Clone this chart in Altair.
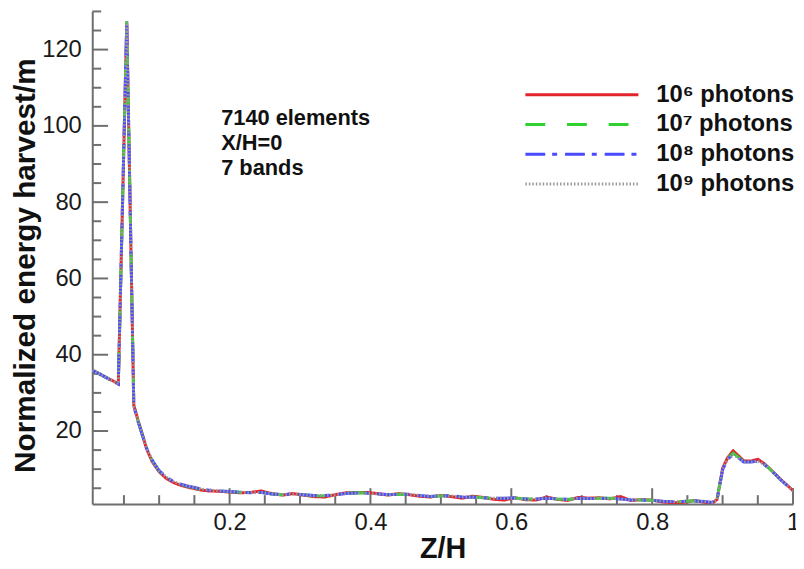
import altair as alt
import pandas as pd

# ---------------- data ----------------
Z = [0.005, 0.015, 0.025, 0.035, 0.042, 0.054, 0.064, 0.070, 0.076, 0.082,
     0.090, 0.100, 0.110, 0.120, 0.130, 0.140, 0.150, 0.160, 0.170, 0.185,
     0.200, 0.215, 0.230, 0.245, 0.260, 0.275, 0.290, 0.305, 0.320, 0.335,
     0.350, 0.365, 0.380, 0.395, 0.410, 0.425, 0.440, 0.455, 0.470, 0.485,
     0.500, 0.515, 0.530, 0.545, 0.560, 0.575, 0.590, 0.605, 0.620, 0.635,
     0.650, 0.665, 0.680, 0.695, 0.710, 0.725, 0.740, 0.755, 0.770, 0.785,
     0.800, 0.815, 0.830, 0.845, 0.860, 0.875, 0.885, 0.892, 0.900, 0.907,
     0.915, 0.922, 0.930, 0.940, 0.950, 0.958, 0.966, 0.975, 0.983, 0.991,
     1.000]

E_1E6 = [36.0, 35.0, 34.0, 33.1, 32.4, 127.0, 26.8, 22.8, 19.2, 15.4,
         12.0, 9.3, 7.6, 6.5, 5.8, 5.3, 4.9, 4.5, 4.3, 4.2,
         4.0, 3.8, 3.9, 4.3, 3.6, 3.2, 3.6, 3.2, 2.8, 2.7,
         3.3, 3.8, 3.9, 3.9, 3.6, 3.2, 3.6, 3.3, 2.9, 2.7,
         3.1, 2.8, 2.4, 2.9, 2.6, 2.1, 1.9, 2.5, 2.0, 1.9,
         2.7, 2.1, 1.8, 2.6, 2.4, 2.5, 2.2, 2.8, 1.8, 2.0,
         1.9, 1.4, 1.2, 1.3, 1.8, 1.3, 1.1, 2.0, 10.2, 13.0,
         14.8, 13.6, 12.2, 12.1, 12.6, 11.6, 10.3, 8.7, 7.2, 5.9,
         4.4]

E_1E7 = [35.9, 35.0, 34.0, 33.0, 32.3, 127.5, 26.6, 22.6, 19.1, 15.5,
         12.3, 9.5, 7.8, 6.7, 6.0, 5.5, 5.1, 4.7, 4.45, 4.3,
         4.1, 3.95, 3.8, 3.95, 3.5, 3.3, 3.5, 3.3, 3.05, 3.0,
         3.25, 3.65, 3.8, 3.75, 3.5, 3.3, 3.45, 3.35, 3.05, 2.8,
         3.0, 3.0, 2.65, 2.7, 2.5, 2.3, 2.3, 2.45, 2.2, 2.15,
         2.45, 2.2, 2.05, 2.4, 2.3, 2.35, 2.35, 2.3, 1.9, 1.9,
         1.85, 1.55, 1.4, 1.5, 1.7, 1.45, 1.25, 1.9, 10.0, 12.8,
         14.2, 13.2, 12.0, 11.9, 12.3, 11.5, 10.2, 8.6, 7.1, 5.8,
         4.3]

E_1E8 = [35.9, 35.0, 34.0, 33.0, 32.3, 127.4, 26.5, 22.5, 19.0, 15.6,
         12.4, 9.6, 7.9, 6.8, 6.1, 5.6, 5.2, 4.8, 4.5, 4.3,
         4.15, 3.95, 3.8, 3.9, 3.5, 3.35, 3.5, 3.3, 3.1, 3.1,
         3.25, 3.6, 3.75, 3.7, 3.5, 3.35, 3.4, 3.4, 3.1, 2.85,
         3.0, 3.05, 2.7, 2.65, 2.5, 2.35, 2.4, 2.45, 2.2, 2.2,
         2.4, 2.2, 2.1, 2.35, 2.3, 2.3, 2.4, 2.2, 1.9, 1.9,
         1.85, 1.6, 1.45, 1.55, 1.65, 1.5, 1.3, 1.9, 9.8, 12.6,
         13.8, 13.0, 11.9, 11.9, 12.1, 11.4, 10.2, 8.6, 7.1, 5.8,
         4.3]

E_1E9 = [35.9, 35.0, 34.0, 33.0, 32.3, 127.4, 26.5, 22.5, 19.0, 15.6,
         12.4, 9.6, 7.9, 6.8, 6.1, 5.6, 5.2, 4.8, 4.5, 4.3,
         4.15, 3.95, 3.8, 3.9, 3.5, 3.35, 3.45, 3.3, 3.1, 3.1,
         3.25, 3.6, 3.75, 3.7, 3.5, 3.35, 3.4, 3.4, 3.1, 2.9,
         3.0, 3.0, 2.7, 2.65, 2.5, 2.35, 2.4, 2.4, 2.2, 2.2,
         2.4, 2.2, 2.1, 2.35, 2.3, 2.3, 2.35, 2.2, 1.9, 1.9,
         1.85, 1.6, 1.45, 1.55, 1.65, 1.5, 1.3, 1.9, 9.8, 12.6,
         13.9, 13.0, 11.9, 11.9, 12.1, 11.4, 10.2, 8.6, 7.1, 5.8,
         4.3]

SERIES = ["10\u2076 photons", "10\u2077 photons", "10\u2078 photons", "10\u2079 photons"]
COLORS = ["#e3242b", "#2fd12f", "#4a4aff", "#9a9a9a"]
DASHES = [[1, 0], [20, 22], [20, 7, 5, 8], [1.5, 2]]
WIDTHS = [3, 3, 3, 1.5]

X_MAJOR = [0.2, 0.4, 0.6, 0.8, 1.0]
X_MINOR = [0.05, 0.1, 0.15, 0.25, 0.3, 0.35, 0.45, 0.5, 0.55, 0.65, 0.7, 0.75, 0.85, 0.9, 0.95]
Y_MAJOR = [20, 40, 60, 80, 100, 120]
Y_MINOR = [5, 10, 15, 25, 30, 35, 45, 50, 55, 65, 70, 75, 85, 90, 95, 105, 110, 115, 125, 130]

NOTE_TEXT = ["7140 elements", "X/H=0", "7 bands"]
NOTE_Z = [0.188]
NOTE_E = [100.2]

X_DOMAIN = [0.005, 1.0]
Y_DOMAIN = [0.85, 130]

# ---------------- tables ----------------
rows = []
for name, vals in zip(SERIES, [E_1E6, E_1E7, E_1E8, E_1E9]):
    for z, e in zip(Z, vals):
        rows.append({"Z": z, "E": e, "series": name})
df = pd.DataFrame(rows)

xs = alt.Scale(domain=X_DOMAIN, nice=False, zero=False)
ys = alt.Scale(domain=Y_DOMAIN, nice=False, zero=False)

FONT = "Liberation Sans"
AX = "#6e6e6e"

X_AXIS = alt.Axis(values=X_MAJOR, format="~g", title="Z/H",
                  ticks=False, tickSize=0, grid=False,
                  domainColor=AX, domainWidth=2,
                  labelFont=FONT, labelFontSize=24, labelColor="#1a1a1a",
                  labelPadding=7, labelFlush=False,
                  titleFont=FONT, titleFontSize=29, titleFontWeight="bold",
                  titleColor="#111", titleBaseline="alphabetic",
                  titleY=54)
Y_AXIS = alt.Axis(values=Y_MAJOR, title="Normalized energy harvest/m",
                  ticks=False, tickSize=0, grid=False,
                  domainColor=AX, domainWidth=2,
                  labelFont=FONT, labelFontSize=24, labelColor="#1a1a1a",
                  labelPadding=11,
                  titleFont=FONT, titleFontSize=30, titleFontWeight="bold",
                  titleColor="#111", titleAngle=270, titleAlign="center",
                  titleBaseline="alphabetic", titleX=-58, titleY=256)


def XE():
    return alt.X("Z:Q", scale=xs, axis=X_AXIS)


def YE():
    return alt.Y("E:Q", scale=ys, axis=Y_AXIS)


lines = alt.Chart(df).mark_line(clip=True, strokeCap="butt").encode(
    x=XE(), y=YE(),
    color=alt.Color("series:N", scale=alt.Scale(domain=SERIES, range=COLORS), title=None),
    strokeDash=alt.StrokeDash("series:N", scale=alt.Scale(domain=SERIES, range=DASHES), title=None),
    strokeWidth=alt.StrokeWidth("series:N", scale=alt.Scale(domain=SERIES, range=WIDTHS), title=None),
    order=alt.Order("Z:Q"),
)

xt_major = alt.Chart(pd.DataFrame({"Z": X_MAJOR})).mark_rule(color=AX, strokeWidth=2).encode(
    x=XE(), y=alt.value(497), y2=alt.value(481))
xt_minor = alt.Chart(pd.DataFrame({"Z": X_MINOR})).mark_rule(color=AX, strokeWidth=2).encode(
    x=XE(), y=alt.value(497), y2=alt.value(488))
yt_major = alt.Chart(pd.DataFrame({"E": Y_MAJOR})).mark_rule(color=AX, strokeWidth=2).encode(
    y=YE(), x=alt.value(0), x2=alt.value(16))
yt_minor = alt.Chart(pd.DataFrame({"E": Y_MINOR})).mark_rule(color=AX, strokeWidth=2).encode(
    y=YE(), x=alt.value(0), x2=alt.value(9))

note = alt.Chart(pd.DataFrame({"Z": NOTE_Z, "E": NOTE_E, "t": ["\n".join(NOTE_TEXT)]})).mark_text(
    align="left", baseline="alphabetic", font=FONT, fontSize=22, fontWeight="bold",
    color="#111", lineBreak="\n", lineHeight=25).encode(
    x=XE(), y=YE(), text="t:N")

chart = alt.layer(xt_minor, xt_major, yt_minor, yt_major, lines, note).properties(
    width=707, height=497,
    autosize=alt.AutoSizeParams(type="none"),
    padding={"left": 85, "top": 1, "right": 3, "bottom": 60},
).configure_view(stroke=None).configure_legend(
    orient="none", legendX=481, legendY=71,
    symbolType="M-5,0H5", symbolSize=520, symbolFillColor="transparent",
    labelFont=FONT, labelFontSize=24, labelFontWeight="bold", labelColor="#111",
    labelOffset=62, labelLimit=400, rowPadding=5, padding=0,
)

chart.save("out.html", embed_options={"renderer": "svg", "actions": False})
